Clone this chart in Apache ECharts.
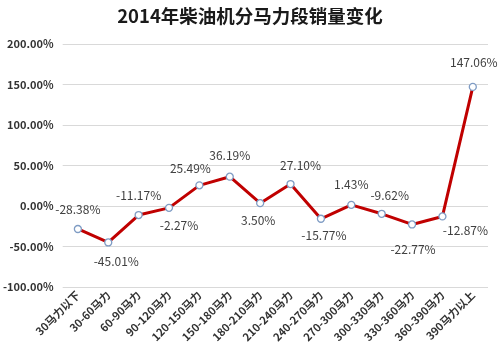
<!DOCTYPE html>
<html><head><meta charset="utf-8">
<script src="https://cdn.jsdelivr.net/npm/echarts@6/dist/echarts.min.js"></script>
<style>html,body{margin:0;padding:0;background:#fff}#c{width:500px;height:362px}</style>
</head><body><div id="c"></div>
<script>
var categories = ['30马力以下','30-60马力','60-90马力','90-120马力','120-150马力','150-180马力','180-210马力','210-240马力','240-270马力','270-300马力','300-330马力','330-360马力','360-390马力','390马力以上'];
var values = [-28.38,-45.01,-11.17,-2.27,25.49,36.19,3.50,27.10,-15.77,1.43,-9.62,-22.77,-12.87,147.06];
var labelPos = ['top','bottom','top','bottom','top','top','bottom','top','bottom','top','top','bottom','bottom','top'];
var labelOffset = [[0,-2],[8,2],[0,-2],[10,0],[-9,0],[0,-4],[-2,0],[10,-1],[3,0],[0,-3],[8,-1],[1,8],[23,-3],[1,-7]];
var yTicks = {min:-100, max:200, interval:50};

var font = '"Noto Sans CJK SC", "Liberation Sans", sans-serif';
var chart = echarts.init(document.getElementById('c'));
var data = values.map(function(v,i){
  return {value:v, label:{position:labelPos[i], offset:labelOffset[i]}};
});
chart.setOption({
  animation:false,
  title:{text:'2014年柴油机分马力段销量变化', left:'center', top:2,
    textStyle:{fontFamily:font, fontSize:18.5, fontWeight:'bold', color:'#1a1a1a'}},
  grid:{left:62, right:12, top:44, bottom:75},
  xAxis:{type:'category', data:categories, boundaryGap:true,
    axisLine:{show:false}, axisTick:{show:false},
    axisLabel:{rotate:45, interval:0, fontFamily:font, fontSize:11, fontWeight:'bold', color:'#333', margin:6}},
  yAxis:{type:'value', min:yTicks.min, max:yTicks.max, interval:yTicks.interval,
    axisLine:{show:false}, axisTick:{show:false},
    splitLine:{lineStyle:{color:'#d9d9d9', width:1}},
    axisLabel:{fontFamily:font, fontSize:11, fontWeight:'bold', color:'#333', margin:9,
      formatter:function(v){return v.toFixed(2)+'%';}}},
  series:[{type:'line', data:data, symbol:'circle', symbolSize:7,
    lineStyle:{color:'#c00000', width:3},
    itemStyle:{color:'#fff', borderColor:'#7f9cc4', borderWidth:1.3},
    label:{show:true, fontFamily:font, fontSize:12, color:'#404040', distance:7,
      formatter:function(p){return p.value.toFixed(2)+'%';}}}]
});
</script></body></html>
